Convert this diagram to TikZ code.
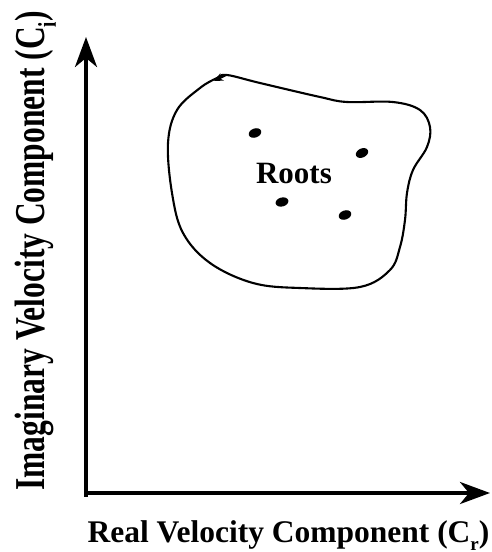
\documentclass[tikz,border=0pt]{standalone}
\usepackage{fontspec}
\setmainfont{Liberation Serif}
\usetikzlibrary{arrows.meta}
\usetikzlibrary{shapes.geometric}
\newcommand{\lowsub}[1]{\raisebox{-0.28em}{\fontsize{19}{19}\selectfont #1}} % dropped subscript
\tikzset{x=1pt, y=-1pt, % pixel-like units, y downwards
axis/.style={ % the two axes
line width=4pt,
-{Stealth[length=30pt, width=22pt, inset=9pt]}},
axislabel/.style={ % axis captions
anchor=base, inner sep=0pt,
font=\bfseries\fontsize{31.5}{34}\selectfont},
root/.style={ % one root of the dispersion relation
fill=black, ellipse, minimum width=13pt, minimum height=9pt, inner sep=0pt},
contour/.style={ % the closed integration curve
line width=2.1pt}}

\begin{document}
\begin{tikzpicture}
				\useasboundingbox (0,0) rectangle (491,552);
				\coordinate (origin) at (86,493);
				\coordinate (ytip) at (86,37);
				\coordinate (xtip) at (490,493);

				\draw[axis, line cap=rect] (ytip |- origin) ++(0,2) -- (ytip);
				\draw[axis] (origin) -- (xtip);

				\node[axislabel] (xlab) at (288.5,542) {Real Velocity Component (C\lowsub{r})};
				\node[axislabel, rotate=90]
					(ylab) at (44,251) {\scalebox{1}[1.35]{Imaginary Velocity Component (C\lowsub{i})}};

				\draw[contour] plot[smooth cycle, tension=0.6] coordinates {
					(227,75) (260,83) (320,97) (347,102) (393,102) (420,110) (430,127)
					(427,147) (413,170) (407,193) (405,220) (400,247) (390,270)
					(360,287) (300,288) (253,283) (210,263) (183,233) (172,193)
					(168,143) (177,110) (200,88) (217,78)};
				\draw[contour, -{Stealth[length=9pt, width=8pt]}] (226,75) -- (214,81);

				\node[root, rotate=20] (r1) at (255,133) {};
				\node[root, rotate=25] (r2) at (362,153) {};
				\node[root, rotate=15] (r3) at (282,202) {};
				\node[root, rotate=20] (r4) at (345,215) {};
				\node[anchor=base, inner sep=0pt, font=\bfseries\fontsize{31}{34}\selectfont]
					(roots) at (294,183) {Roots};
			\end{tikzpicture}
\end{document}
